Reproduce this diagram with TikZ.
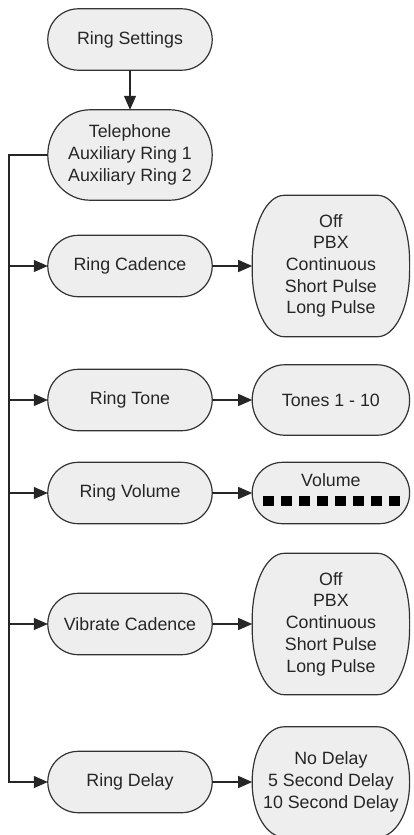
\documentclass[tikz,border=0pt]{standalone}
\usepackage{fontspec}
\setmainfont{Liberation Sans}
\usetikzlibrary{positioning,arrows.meta,backgrounds}

\begin{document}
\begin{tikzpicture}[x = 1pt, y = -1pt,
  menu/.style = {minimum width = 164pt, minimum height = 61pt, align = center, inner sep = 2pt, text = black!85, font = \fontsize{17.8}{21.7}\selectfont},
  choice/.style = {menu, minimum width = 157pt},
  outline/.style = {draw = black!80, fill = gray!13, line width = 1.2pt},
  link/.style = {-{Triangle[length = 14pt, width = 12pt]}, line width = 1.2pt, draw = black!85}]
\useasboundingbox (0,0) rectangle (413,835);
\node[menu] (settings) at (130,39.5) {Ring Settings};
\node[menu, minimum height = 90pt] (phone) at (130,155) {Telephone\\Auxiliary Ring 1\\Auxiliary Ring 2};
\node[menu] (cadence) at (130,266) {Ring Cadence};
\node[menu] (tone)    at (130,400) {Ring Tone};
\node[menu] (volume)  at (130,493) {Ring Volume};
\node[menu] (vibrate) at (130,624) {Vibrate Cadence};
\node[menu] (delay)   at (130,782) {Ring Delay};

\node[choice, minimum height = 141pt, right = 40pt of cadence] (cadenceopts) {Off\\PBX\\Continuous\\Short Pulse\\Long Pulse};
\node[choice, minimum height = 70pt, right = 40pt of tone] (toneopts) {Tones 1 - 10};
\node[choice, minimum height = 61pt, text height = 13pt, text depth = 26pt, right = 40pt of volume] (volumeopts) {Volume};
\node[choice, minimum height = 141pt, right = 40pt of vibrate] (vibrateopts) {Off\\PBX\\Continuous\\Short Pulse\\Long Pulse};
\node[choice, minimum height = 110pt, right = 40pt of delay] (delayopts) {No Delay\\5 Second Delay\\10 Second Delay};

% box outlines with elliptic ends
\begin{scope}[on background layer]
\foreach \n/\rx/\ry in {settings/30.5/30.5, phone/42/45, cadence/30.5/30.5, tone/30.5/30.5, volume/30.5/30.5, vibrate/30.5/30.5, delay/30.5/30.5,
    cadenceopts/32/66, toneopts/32/35, volumeopts/30.5/30.5, vibrateopts/32/66, delayopts/32/54}
  \draw[outline] ([xshift = -\rx pt]\n.north east) -- ([xshift = \rx pt]\n.north west)
    arc[start angle = 90, end angle = 180, x radius = \rx pt, y radius = \ry pt]
    -- ([yshift = \ry pt]\n.south west)
    arc[start angle = 180, end angle = 270, x radius = \rx pt, y radius = \ry pt]
    -- ([xshift = -\rx pt]\n.south east)
    arc[start angle = 270, end angle = 360, x radius = \rx pt, y radius = \ry pt]
    -- ([yshift = -\ry pt]\n.north east)
    arc[start angle = 0, end angle = 90, x radius = \rx pt, y radius = \ry pt] -- cycle;
\end{scope}

% volume bar
\foreach \k in {0,...,7}
  \fill[black] ([xshift = -67.5pt + \k*18pt, yshift = -3pt]volumeopts.center) rectangle ++(10.5,10);

\coordinate (bus) at (9,155);
\draw[link] (settings) -- (phone);
\draw[link] (phone.west) -- (bus) |- (delay.west);
\draw[link] (bus |- cadence.west) -- (cadence.west);
\draw[link] (bus |- tone.west) -- (tone.west);
\draw[link] (bus |- volume.west) -- (volume.west);
\draw[link] (bus |- vibrate.west) -- (vibrate.west);

\draw[link] (cadence) -- (cadenceopts);
\draw[link] (tone) -- (toneopts);
\draw[link] (volume) -- (volumeopts);
\draw[link] (vibrate) -- (vibrateopts);
\draw[link] (delay) -- (delayopts);
\end{tikzpicture}
\end{document}
